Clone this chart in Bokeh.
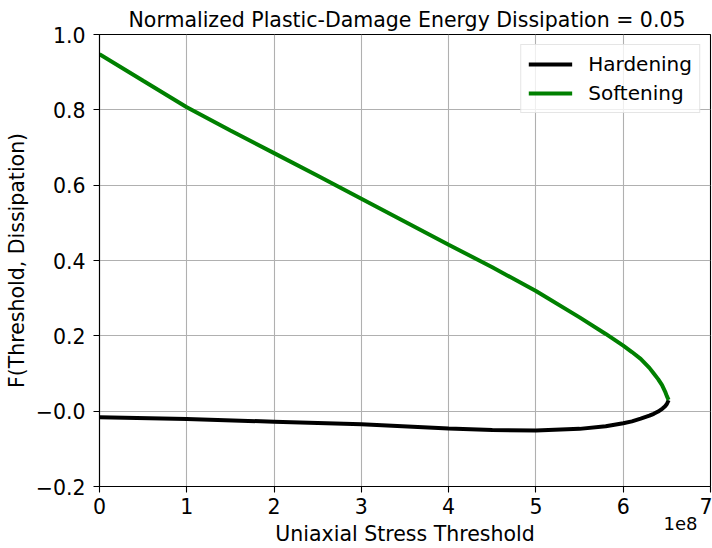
from bokeh.plotting import figure
from bokeh.models import FixedTicker, Range1d, Legend, LegendItem, LinearAxis
from bokeh.embed import file_html
from bokeh.resources import INLINE

# ---- data ----
title_text = "Normalized Plastic-Damage Energy Dissipation = 0.05"
x_label = "Uniaxial Stress Threshold"
y_label = "F(Threshold, Dissipation)"

hardening_x = [0.0, 1.0e8, 2.0e8, 3.0e8, 4.0e8, 4.5e8, 5.0e8, 5.5e8, 5.8e8, 6.0e8,
               6.1e8, 6.2e8, 6.3e8, 6.35e8, 6.4e8, 6.45e8, 6.48e8, 6.5e8, 6.52e8]
hardening_y = [-0.016, -0.021, -0.028, -0.035, -0.046, -0.050, -0.051, -0.047, -0.040, -0.032,
               -0.027, -0.020, -0.012, -0.007, -0.001, 0.007, 0.013, 0.019, 0.029]

softening_x = [0.0, 0.5e8, 1.0e8, 1.5e8, 2.0e8, 2.5e8, 3.0e8, 3.5e8, 4.0e8,
               4.5e8, 5.0e8, 5.5e8, 5.8e8, 6.0e8, 6.1e8, 6.2e8, 6.3e8, 6.35e8,
               6.4e8, 6.445e8, 6.48e8, 6.5e8, 6.52e8]
softening_y = [0.948, 0.877, 0.807, 0.745, 0.685, 0.625, 0.564, 0.503, 0.442,
               0.382, 0.319, 0.249, 0.205, 0.174, 0.157, 0.139, 0.115, 0.100,
               0.085, 0.069, 0.052, 0.040, 0.030]

x_ticks = [0, 1e8, 2e8, 3e8, 4e8, 5e8, 6e8, 7e8]
x_tick_labels = ["0", "1", "2", "3", "4", "5", "6", "7"]
y_ticks = [-0.2, 0.0, 0.2, 0.4, 0.6, 0.8, 1.0]
y_tick_labels = ["\u22120.2", "\u22120.0", "0.2", "0.4", "0.6", "0.8", "1.0"]
offset_text = "1e8"
offset_at = 7e8

FONT = "DejaVu Sans"
FS = "20.5px"

p = figure(width=712, height=548, output_backend="svg", toolbar_location=None,
           x_range=Range1d(0, 7e8), y_range=Range1d(-0.2, 1.0),
           min_border_left=99, min_border_right=2, min_border_top=34,
           min_border_bottom=60)

p.title.text = title_text
p.title.text_font = FONT
p.title.text_font_size = FS
p.title.text_font_style = "normal"
p.title.text_color = "black"
p.title.align = "left"
p.title.offset = 29
p.title.standoff = 6

r_h = p.line(hardening_x, hardening_y, line_color="black", line_width=4)
r_s = p.line(softening_x, softening_y, line_color="green", line_width=4)


def style_axis(ax):
    ax.axis_label_text_font = FONT
    ax.axis_label_text_font_size = FS
    ax.axis_label_text_font_style = "normal"
    ax.axis_label_text_color = "black"
    ax.major_label_text_font = FONT
    ax.major_label_text_font_size = FS
    ax.major_label_text_color = "black"
    ax.axis_line_color = "black"
    ax.axis_line_width = 1.1
    ax.major_tick_line_color = "black"
    ax.major_tick_line_width = 1.1
    ax.major_tick_out = 6
    ax.major_tick_in = 0
    ax.minor_tick_out = 0
    ax.minor_tick_in = 0


style_axis(p.xaxis[0])
style_axis(p.yaxis[0])

p.yaxis.axis_label = y_label
p.xaxis.ticker = FixedTicker(ticks=x_ticks)
p.yaxis.ticker = FixedTicker(ticks=y_ticks)
p.xaxis.major_label_overrides = dict(zip(x_ticks, x_tick_labels))
p.yaxis.major_label_overrides = dict(zip(y_ticks, y_tick_labels))
p.xaxis.major_label_standoff = 5
p.yaxis.major_label_standoff = 8
p.yaxis.axis_label_standoff = 4

# second bottom axis: carries the "1e8" offset text and the x axis title
ax2 = LinearAxis(ticker=FixedTicker(ticks=[offset_at]),
                 major_label_overrides={offset_at: offset_text},
                 axis_label=x_label)
style_axis(ax2)
ax2.axis_line_color = None
ax2.major_tick_line_color = None
ax2.major_tick_out = 0
ax2.major_label_text_align = "right"
ax2.major_label_text_font_size = "18px"
ax2.major_label_standoff = 0
ax2.axis_label_standoff = -11
p.add_layout(ax2, "below")

p.grid.grid_line_color = "#b0b0b0"
p.grid.grid_line_width = 1.1
p.outline_line_color = "black"
p.outline_line_alpha = 1.0
p.outline_line_width = 1.1

legend = Legend(items=[LegendItem(label="Hardening", renderers=[r_h]),
                       LegendItem(label="Softening", renderers=[r_s])],
                location="top_right", margin=10, padding=7, spacing=5,
                glyph_width=44, glyph_height=22, label_height=22,
                label_standoff=16, label_text_color="black",
                label_text_font=FONT, label_text_font_size="20px",
                border_line_color="#cccccc", border_line_width=1.1,
                background_fill_alpha=0.8)
p.add_layout(legend)

open("out.html", "w").write(file_html(p, INLINE))
